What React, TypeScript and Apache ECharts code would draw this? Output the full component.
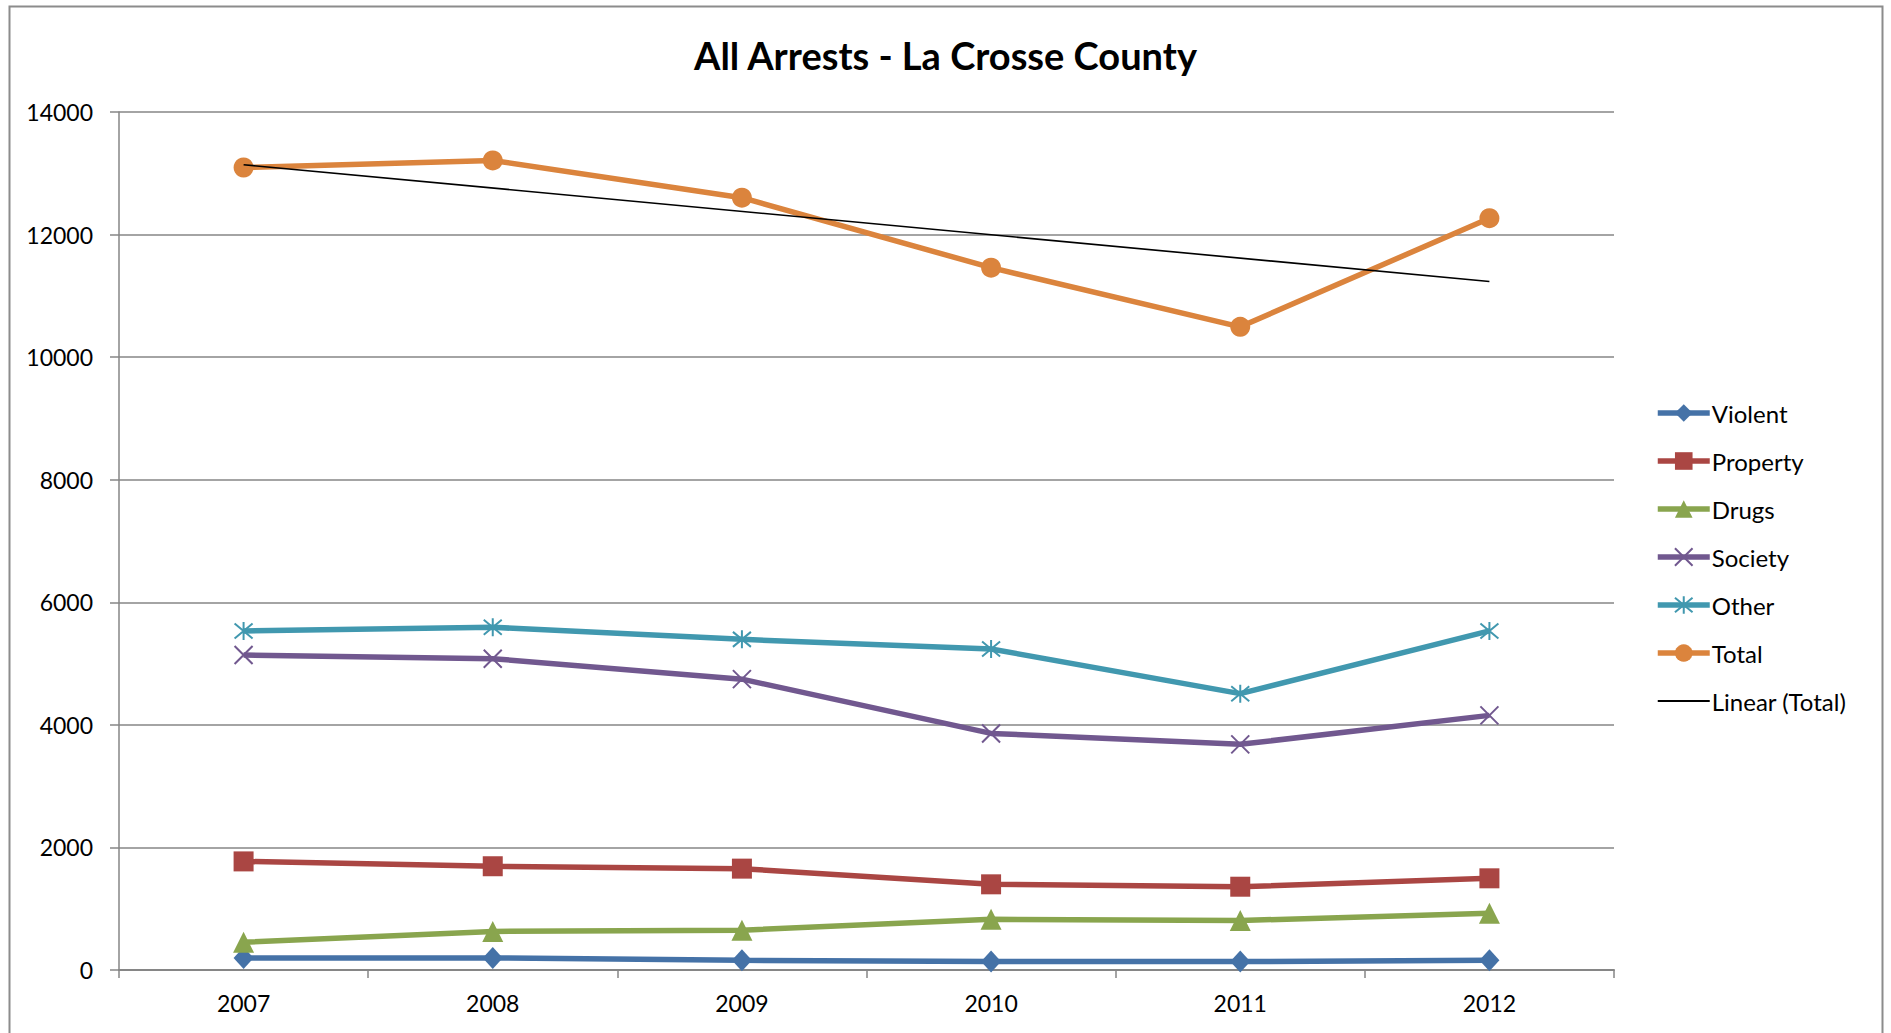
import React, { useEffect, useRef } from "react";
import * as echarts from "echarts";

const years = ["2007", "2008", "2009", "2010", "2011", "2012"];
const violent = [197, 197, 158, 138, 138, 158];
const property = [1772, 1693, 1654, 1398, 1359, 1496];
const drugs = [453, 630, 650, 827, 807, 925];
const society = [5139, 5080, 4746, 3860, 3682, 4155];
const other = [5533, 5592, 5395, 5238, 4509, 5533];
const total = [13094, 13210, 12602, 11460, 10495, 12267];
// Linear trend of Total, read at the first and last year
const trend = [13140, null, null, null, null, 11235];

const FONT = "Lato";

export default function App() {
  const ref = useRef<HTMLDivElement>(null);
  useEffect(() => {
    if (!ref.current) return;
    const chart = echarts.init(ref.current, null, { renderer: "svg" });
    const xPath = "path://M0,0L10,10M10,0L0,10";
    const starPath = "path://M0,0L10,10M10,0L0,10M5,-1L5,11";
    const LW = 5.5;
    const mk = (name: string, data: number[], color: string, symbol: string, size: number | number[], stroke = false) => ({
      name,
      type: "line",
      data,
      symbol,
      symbolSize: size,
      z: 3,
      lineStyle: { color, width: LW },
      itemStyle: stroke
        ? { color, borderColor: color, borderWidth: 2 }
        : { color, borderWidth: 0 },
    });
    const leg = (name: string) => ({ name, lineStyle: { width: LW } });
    chart.setOption({
      animation: false,
      backgroundColor: "#ffffff",
      textStyle: { fontFamily: FONT },
      title: {
        text: "All Arrests - La Crosse County",
        left: "center",
        top: 31,
        textStyle: { fontFamily: FONT, fontWeight: "bold", fontSize: 38, color: "#000" },
      },
      graphic: [
        {
          type: "rect",
          shape: { x: 9.5, y: 6.5, width: 1873, height: 1060 },
          style: { fill: "none", stroke: "#8c8c8c", lineWidth: 2 },
          silent: true,
        },
      ],
      grid: { left: 119, right: 277, top: 112, bottom: 63 },
      legend: {
        orient: "vertical",
        left: 1650,
        top: 396,
        itemWidth: 52,
        itemHeight: 22,
        itemGap: 24,
        textStyle: { fontFamily: FONT, fontSize: 24, color: "#000", lineHeight: 22, padding: [0, 0, 0, -3] },
        data: [
          leg("Violent"),
          leg("Property"),
          leg("Drugs"),
          leg("Society"),
          leg("Other"),
          leg("Total"),
          {
            name: "Linear (Total)",
            icon: "path://M0,0L40,0L40,1.6L0,1.6Z",
            itemStyle: { color: "#000000" },
          },
        ],
      },
      xAxis: {
        type: "category",
        data: years,
        boundaryGap: true,
        axisLine: { lineStyle: { color: "#868686", width: 2 } },
        axisTick: { show: true, length: 8, lineStyle: { color: "#868686", width: 1.5 } },
        axisLabel: { fontFamily: FONT, fontSize: 23, color: "#000", margin: 21 },
      },
      yAxis: {
        type: "value",
        min: 0,
        max: 14000,
        interval: 2000,
        axisLine: { show: true, lineStyle: { color: "#868686", width: 1.5 } },
        axisTick: { show: true, length: 9, lineStyle: { color: "#868686", width: 1.5 } },
        axisLabel: {
          fontFamily: FONT,
          fontSize: 23,
          color: "#000",
          margin: 26,
          formatter: (v: number) => String(v),
        },
        splitLine: { lineStyle: { color: "#868686", width: 1.5 } },
      },
      series: [
        mk("Violent", violent, "#4572A7", "diamond", [20, 22]),
        mk("Property", property, "#AA4643", "rect", 20),
        mk("Drugs", drugs, "#89A54E", "triangle", 21),
        mk("Society", society, "#71588F", xPath, 18, true),
        mk("Other", other, "#4198AF", starPath, 18, true),
        mk("Total", total, "#DB843D", "circle", 20),
        {
          name: "Linear (Total)",
          type: "line",
          data: trend,
          connectNulls: true,
          symbol: "none",
          z: 5,
          lineStyle: { color: "#000000", width: 1.6 },
          itemStyle: { color: "#000000" },
        },
      ],
    });
    return () => chart.dispose();
  }, []);
  return (
    <div
      ref={ref}
      style={{ position: "absolute", left: 0, top: 0, width: 1891, height: 1033 }}
    />
  );
}
